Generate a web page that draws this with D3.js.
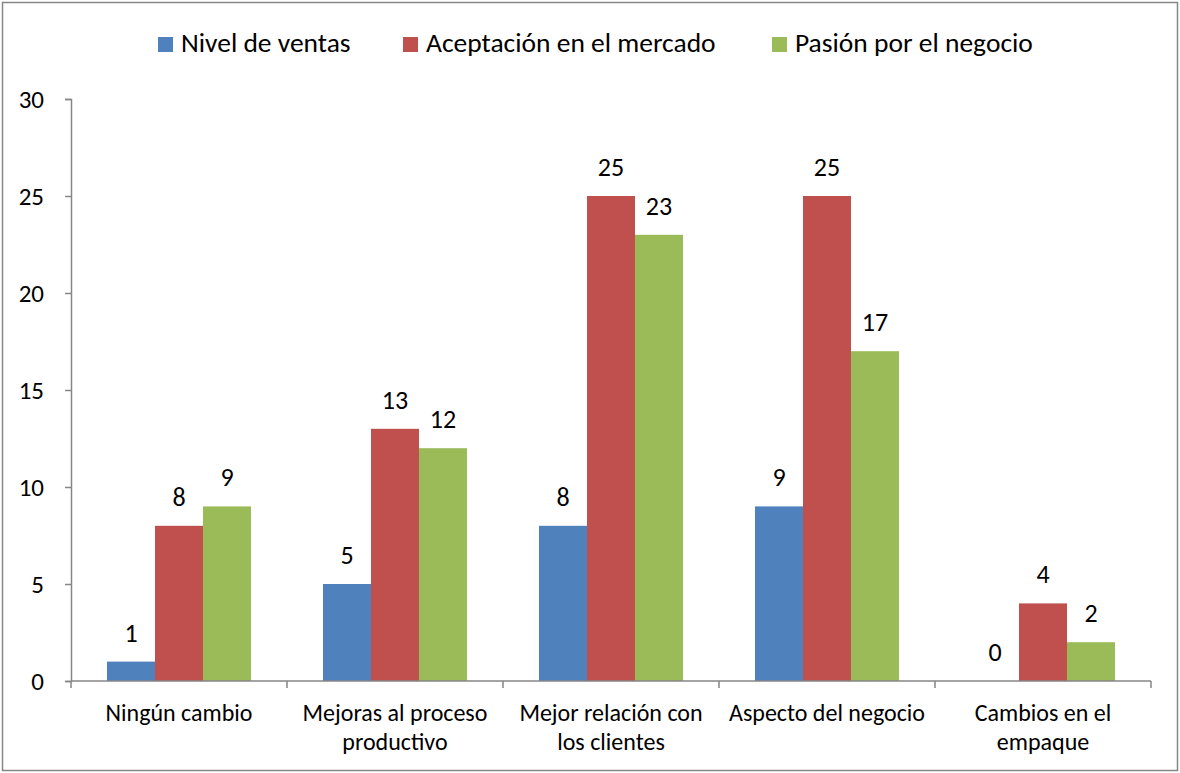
<!DOCTYPE html>
<html>
<head>
<meta charset="utf-8">
<script src="https://cdn.jsdelivr.net/npm/d3@7"></script>
<style>
  body { margin: 0; background: #fff; }
  text { font-family: Carlito, Calibri, Lato, "Open Sans", sans-serif; fill: #000; }
</style>
</head>
<body>
<svg></svg>
<script>
const categories = [
  ["Ningún cambio"],
  ["Mejoras al proceso", "productivo"],
  ["Mejor relación con", "los clientes"],
  ["Aspecto del negocio"],
  ["Cambios en el", "empaque"]
];
const seriesNames = ["Nivel de ventas", "Aceptación en el mercado", "Pasión por el negocio"];
const colors = ["#4F81BD", "#C0504D", "#9BBB59"];
const nivelVentas = [1, 5, 8, 9, 0];
const aceptacion = [8, 13, 25, 25, 4];
const pasion = [9, 12, 23, 17, 2];
const yTicks = [0, 5, 10, 15, 20, 25, 30];

const series = [nivelVentas, aceptacion, pasion];

const svg = d3.select("svg").attr("width", 1180).attr("height", 773);

// chart border
svg.append("rect")
  .attr("x", 2.5).attr("y", 2.5)
  .attr("width", 1175).attr("height", 768)
  .attr("fill", "#fff")
  .attr("stroke", "#868686")
  .attr("stroke-width", 1.5);

const plotLeft = 71, plotRight = 1151, plotTop = 99, plotBottom = 681;

const x0 = d3.scaleBand()
  .domain(d3.range(categories.length))
  .range([plotLeft, plotRight]);

const x1 = d3.scaleBand()
  .domain(d3.range(series.length))
  .range([0, x0.bandwidth()])
  .paddingOuter(0.75);

const y = d3.scaleLinear().domain([0, 30]).range([plotBottom, plotTop]);

// bars
const groups = svg.selectAll("g.cat")
  .data(categories)
  .enter()
  .append("g")
  .attr("class", "cat")
  .attr("transform", (d, i) => `translate(${x0(i)},0)`);

groups.each(function (c, i) {
  const g = d3.select(this);
  series.forEach((s, j) => {
    const v = s[i];
    g.append("rect")
      .attr("x", x1(j))
      .attr("y", y(v))
      .attr("width", x1.bandwidth())
      .attr("height", y(0) - y(v))
      .attr("fill", colors[j]);
    g.append("text")
      .attr("x", x1(j) + x1.bandwidth() / 2)
      .attr("y", y(v) - 20)
      .attr("text-anchor", "middle")
      .attr("font-size", 26)
      .text(v);
  });
});

// y axis
const yAxis = svg.append("g")
  .attr("transform", `translate(${plotLeft},0)`)
  .call(d3.axisLeft(y).tickValues(yTicks).tickSize(6).tickPadding(21));
yAxis.select(".domain").attr("stroke", "#868686").attr("stroke-width", 1.5);
yAxis.selectAll(".tick line").attr("stroke", "#868686").attr("stroke-width", 1.5);
yAxis.selectAll(".tick text")
  .attr("font-size", 25)
  .attr("font-family", "Carlito, Calibri, Lato, sans-serif")
  .attr("fill", "#000");

// x axis
const xAxis = svg.append("g")
  .attr("transform", `translate(0,${plotBottom})`);
xAxis.append("line")
  .attr("x1", plotLeft).attr("x2", plotRight)
  .attr("stroke", "#868686").attr("stroke-width", 1.5);
xAxis.selectAll("line.tk")
  .data(d3.range(categories.length + 1))
  .enter()
  .append("line")
  .attr("class", "tk")
  .attr("x1", (d) => (d < categories.length ? x0(d) : plotRight))
  .attr("x2", (d) => (d < categories.length ? x0(d) : plotRight))
  .attr("y1", 0).attr("y2", 7)
  .attr("stroke", "#868686").attr("stroke-width", 1.5);

const lbl = xAxis.selectAll("text.cl")
  .data(categories)
  .enter()
  .append("text")
  .attr("class", "cl")
  .attr("text-anchor", "middle")
  .attr("font-size", 24)
  .attr("x", (d, i) => x0(i) + x0.bandwidth() / 2);
lbl.selectAll("tspan")
  .data((d) => d)
  .enter()
  .append("tspan")
  .attr("x", function () { return d3.select(this.parentNode).attr("x"); })
  .attr("y", (d, k) => 40 + k * 29)
  .text((d) => d);

// legend
const legendX = [158, 403, 772];
const leg = svg.selectAll("g.leg")
  .data(seriesNames)
  .enter()
  .append("g")
  .attr("class", "leg")
  .attr("transform", (d, i) => `translate(${legendX[i]},37)`);
leg.append("rect")
  .attr("width", 15).attr("height", 15)
  .attr("fill", (d, i) => colors[i]);
leg.append("text")
  .attr("x", 23).attr("y", 15)
  .attr("font-size", 27.5)
  .text((d) => d);
</script>
</body>
</html>
